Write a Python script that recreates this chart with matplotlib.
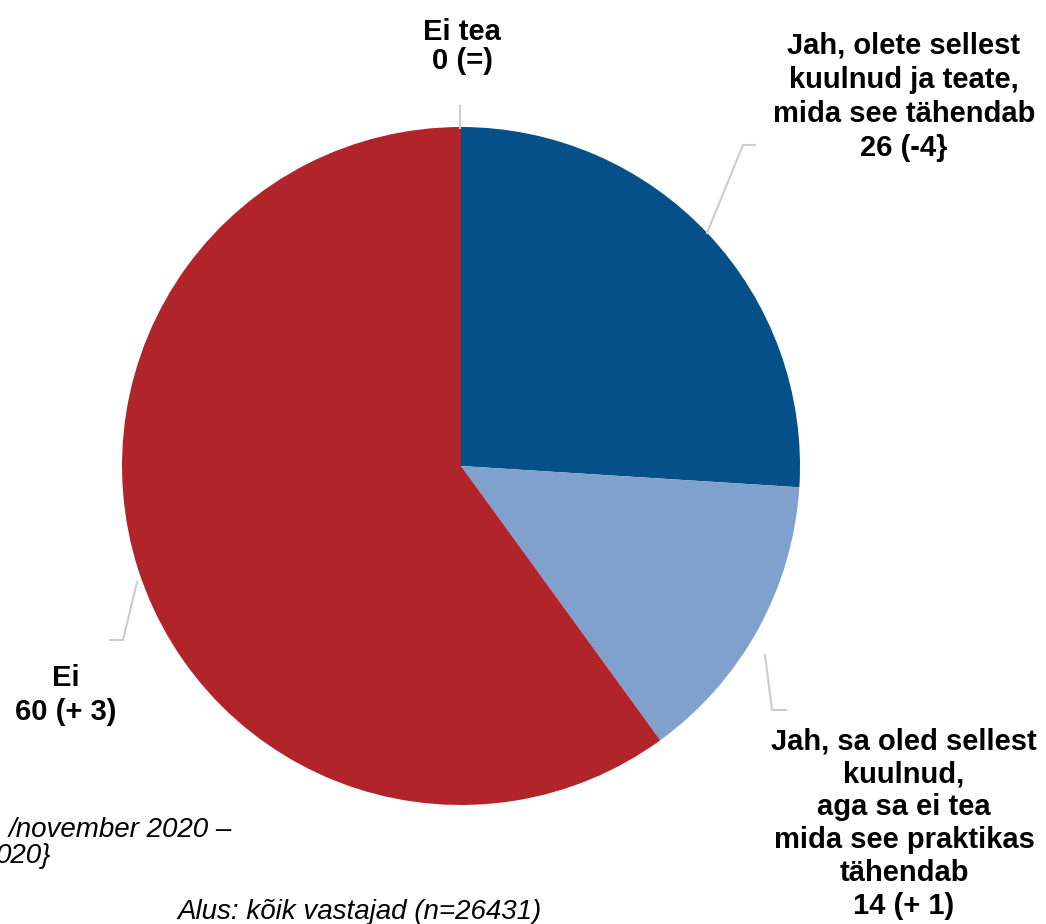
import matplotlib.pyplot as plt

labels = [
    "Jah, olete sellest\nkuulnud ja teate,\nmida see tähendab\n26 (-4}",
    "Jah, sa oled sellest\nkuulnud,\naga sa ei tea\nmida see praktikas\ntähendab\n14 (+ 1)",
    "Ei\n60 (+ 3)",
    "Ei tea\n0 (=)",
]
values = [26, 14, 60, 0]
colors = ["#06508a", "#80a1cd", "#b1242a", "#999999"]

W, H = 1046, 924
fig = plt.figure(figsize=(W / 100, H / 100), dpi=100)
ax = fig.add_axes([0, 0, 1, 1])

cx, cy, r = 461, H - 466, 339
ax.pie(values, colors=colors, startangle=90, counterclock=False,
       center=(cx, cy), radius=r, frame=True,
       wedgeprops=dict(linewidth=0))
ax.set_xlim(0, W)
ax.set_ylim(0, H)
ax.set_aspect("equal")
ax.axis("off")

lc = "#cccccc"
# leader lines (pixel coords, y measured from top)
leaders = [
    [(707, 233), (743, 145), (755, 145)],
    [(765, 655), (772, 710), (786, 710)],
    [(137, 582), (123, 640), (110, 640)],
    [(460, 128), (460, 106)],
]
for pts in leaders:
    ax.plot([p[0] for p in pts], [H - p[1] for p in pts], color=lc, lw=1.5)

font = dict(family=["Liberation Sans", "DejaVu Sans"], fontsize=21,
            fontweight="bold", ha="center", va="top")
ax.text(904, H - 32, labels[0], linespacing=1.28, **font)
ax.text(904, H - 727, labels[1], linespacing=1.23, **font)
ax.text(66, H - 664, labels[2], linespacing=1.28, **font)
ax.text(462, H - 18, labels[3], linespacing=1.05, **font)

ital = dict(family=["Liberation Sans", "DejaVu Sans"], fontsize=20,
            style="italic", va="top")
ax.text(232, H - 817, "/november 2020 –", ha="right", **ital)
ax.text(-4, H - 843, "020}", ha="left", **ital)
ax.text(177, H - 899, "Alus: kõik vastajad (n=26431)", ha="left", **ital)

fig.savefig("out.png", dpi=100)
